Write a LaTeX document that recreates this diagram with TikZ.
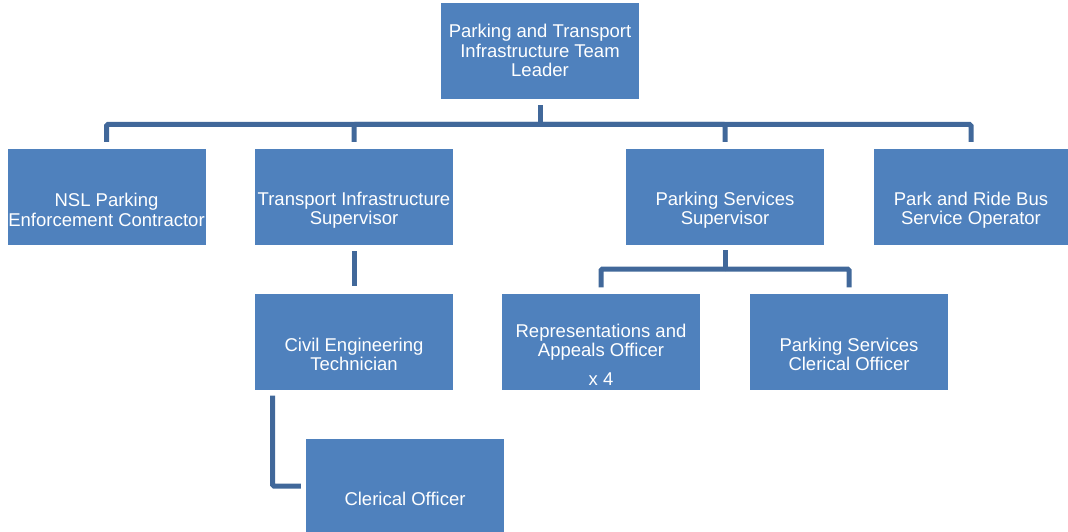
\documentclass[tikz,border=0pt]{standalone}
\usepackage{fontspec}
\setmainfont{Liberation Sans}
\definecolor{boxblue}{HTML}{4F81BD}
\definecolor{linkblue}{HTML}{41689A}

\begin{document}
\begin{tikzpicture}[x=1pt,y=-1pt,
    post/.style={fill=boxblue, minimum width=198pt, minimum height=96pt, inner sep=0pt},
    txt/.style={text=white, align=center, inner sep=0pt, yshift=-13pt, font=\fontsize{18.5}{19.5}\selectfont},
    link/.style={draw=linkblue, line width=5pt, rounded corners=1.5pt}]

            \useasboundingbox (0,0) rectangle (1068,532);

            \node[post, label={[txt, yshift=13.5pt]center:Parking and Transport\\Infrastructure Team\\Leader}] (lead) at (540,51) {};
            \node[post, label={[txt]center:NSL Parking\\Enforcement Contractor}] (nsl) at (106.5,197) {};
            \node[post, label={[txt]center:Transport Infrastructure\\Supervisor}] (tis) at (354,197) {};
            \node[post, label={[txt]center:Parking Services\\Supervisor}] (pss) at (725,197) {};
            \node[post, minimum width=194pt, label={[txt]center:Park and Ride Bus\\Service Operator}] (prb) at (971,197) {};
            \node[post, label={[txt]center:Civil Engineering\\Technician}] (cet) at (354,341.5) {};
            \node[post, label={[txt, yshift=-0.5pt]center:Representations and\\Appeals Officer\\[9.5pt]x 4}] (rao) at (601,341.5) {};
            \node[post, label={[txt]center:Parking Services\\Clerical Officer}] (psc) at (849,341.5) {};
            \node[post, minimum height=93pt, anchor=north, label={[txt, yshift=-0.5pt]center:Clerical Officer}] (clo) at (405,439) {};

            \coordinate (bus) at (540,124.5);
            \coordinate (psbus) at (725,269);
            \coordinate (elbow) at (272.5,486);

            \draw[link] ([yshift=-6pt]lead.south) -- (bus);
            \draw[link] (bus) -| ([yshift=7pt]nsl.north);
            \draw[link] (bus) -| ([yshift=7pt]tis.north);
            \draw[link] (bus) -| ([yshift=7pt]pss.north);
            \draw[link] (bus) -| ([yshift=7pt]prb.north);

            \draw[link] ([yshift=-6pt]tis.south) -- ([yshift=7pt]cet.north);

            \draw[link] ([yshift=-5pt]pss.south) -- (psbus);
            \draw[link] (psbus) -| ([yshift=6pt]rao.north);
            \draw[link] (psbus) -| ([yshift=6pt]psc.north);

            \draw[link] ([yshift=-6pt]cet.south -| elbow) -- (elbow) -- ([xshift=-5pt]elbow -| clo.west);

            ;
        \end{tikzpicture}
\end{document}
